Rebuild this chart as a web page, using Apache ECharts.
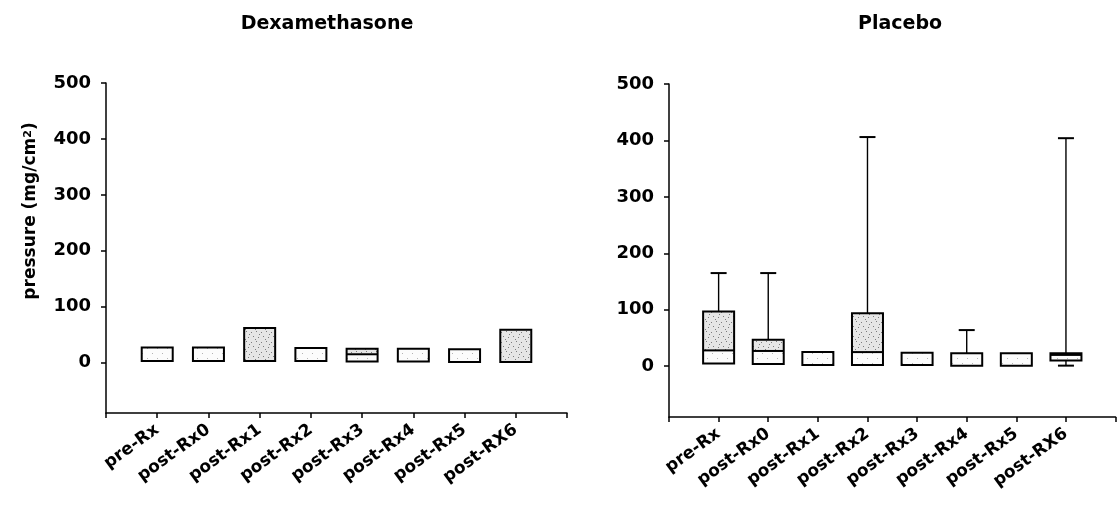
<!DOCTYPE html>
<html>
<head>
<meta charset="utf-8">
<script src="https://cdn.jsdelivr.net/npm/echarts@6/dist/echarts.min.js"></script>
<style>
  html, body { margin: 0; padding: 0; background: #ffffff; }
  #chart { width: 1118px; height: 531px; }
</style>
</head>
<body>
<div id="chart"></div>
<script>
// Measurement time points
const categories = ['pre-Rx', 'post-Rx0', 'post-Rx1', 'post-Rx2', 'post-Rx3', 'post-Rx4', 'post-Rx5', 'post-RX6'];

// Box statistics per time point: [min, Q1, median, Q3, max]  (mg/cm2)
const dexamethasone = [
  [3, 3, 27, 27, 27],
  [3, 3, 27, 27, 27],
  [3, 3, 3, 62, 62],
  [3, 3, 26, 26, 26],
  [2, 2, 15, 25, 25],
  [2, 2, 25, 25, 25],
  [1, 1, 24, 24, 24],
  [1, 1, 1, 59, 59]
];
const placebo = [
  [5, 5, 28, 97, 165],
  [4, 4, 27, 47, 165],
  [2, 2, 25, 25, 25],
  [2, 2, 25, 94, 406],
  [2, 2, 24, 24, 24],
  [1, 1, 23, 23, 64],
  [1, 1, 23, 23, 23],
  [1, 10, 20, 23, 404]
];

const yTicks = [0, 100, 200, 300, 400, 500];

const FONT = 'DejaVu Sans';
const INK = '#000000';

// Small repeating stipple textures for the box halves
function stipple(bg, dotColor, dots) {
  const c = document.createElement('canvas');
  c.width = 10; c.height = 10;
  const g = c.getContext('2d');
  g.fillStyle = bg; g.fillRect(0, 0, 10, 10);
  g.fillStyle = dotColor;
  dots.forEach(function (d) { g.fillRect(d[0], d[1], 1, 1); });
  return { image: c, repeat: 'repeat' };
}
const upperFill = stipple('#e6e6e6', '#7c7c7c', [[1, 2], [6, 1], [3, 6], [8, 7], [5, 9], [9, 4]]);
const lowerFill = stipple('#fcfcfc', '#b4b4b4', [[2, 3], [7, 8]]);

const BOX_HALF = 15.5;
const CAP_HALF = 8;

function renderBox(params, api) {
  const x = api.value(0);
  const mn = api.value(1), q1 = api.value(2), md = api.value(3), q3 = api.value(4), mx = api.value(5);
  const cx = api.coord([x, 0])[0];
  const yMin = api.coord([x, mn])[1];
  const yQ1 = api.coord([x, q1])[1];
  const yMd = api.coord([x, md])[1];
  const yQ3 = api.coord([x, q3])[1];
  const yMax = api.coord([x, mx])[1];
  const children = [];
  if (yQ1 - yMd > 0) {
    children.push({ type: 'rect', shape: { x: cx - BOX_HALF, y: yMd, width: BOX_HALF * 2, height: yQ1 - yMd }, style: { fill: lowerFill } });
  }
  if (yMd - yQ3 > 0) {
    children.push({ type: 'rect', shape: { x: cx - BOX_HALF, y: yQ3, width: BOX_HALF * 2, height: yMd - yQ3 }, style: { fill: upperFill } });
  }
  if (mx > q3) {
    children.push({ type: 'line', shape: { x1: cx, y1: yQ3, x2: cx, y2: yMax }, style: { stroke: INK, lineWidth: 1.4 } });
    children.push({ type: 'line', shape: { x1: cx - CAP_HALF, y1: yMax, x2: cx + CAP_HALF, y2: yMax }, style: { stroke: INK, lineWidth: 2 } });
  }
  if (mn < q1) {
    children.push({ type: 'line', shape: { x1: cx, y1: yQ1, x2: cx, y2: yMin }, style: { stroke: INK, lineWidth: 1.4 } });
    children.push({ type: 'line', shape: { x1: cx - CAP_HALF, y1: yMin, x2: cx + CAP_HALF, y2: yMin }, style: { stroke: INK, lineWidth: 2 } });
  }
  if (md > q1 && md < q3) {
    children.push({ type: 'line', shape: { x1: cx - BOX_HALF, y1: yMd, x2: cx + BOX_HALF, y2: yMd }, style: { stroke: INK, lineWidth: 2 } });
  }
  children.push({ type: 'rect', shape: { x: cx - BOX_HALF, y: yQ3, width: BOX_HALF * 2, height: yQ1 - yQ3 }, style: { fill: 'none', stroke: INK, lineWidth: 2 } });
  return { type: 'group', children: children };
}

// Empty slots at both ends give the axis one spare step on each side
const axisCats = [''].concat(categories, ['']);

function makeXAxis(gridIndex) {
  return {
    type: 'category',
    gridIndex: gridIndex,
    data: axisCats,
    boundaryGap: false,
    axisLine: { onZero: false, lineStyle: { color: INK, width: 1.5 } },
    axisTick: { show: true, interval: 0, length: 5, lineStyle: { color: INK, width: 1.5 } },
    axisLabel: {
      interval: 0, rotate: 36, margin: 15,
      color: INK, fontFamily: FONT, fontWeight: 'bold', fontSize: 17
    },
    splitLine: { show: false }
  };
}

function makeYAxis(gridIndex) {
  return {
    type: 'value',
    gridIndex: gridIndex,
    min: -90,
    max: 500,
    axisLine: { show: true, lineStyle: { color: INK, width: 1.5 } },
    axisTick: { show: true, length: 5, customValues: yTicks, lineStyle: { color: INK, width: 1.5 } },
    axisLabel: {
      customValues: yTicks, margin: 15,
      color: INK, fontFamily: FONT, fontWeight: 'bold', fontSize: 18
    },
    splitLine: { show: false }
  };
}

function toSeriesData(stats) {
  return stats.map(function (s, i) { return [i + 1].concat(s); });
}

const chart = echarts.init(document.getElementById('chart'), null, { renderer: 'canvas' });

chart.setOption({
  backgroundColor: '#ffffff',
  animation: false,
  title: [
    { text: 'Dexamethasone', left: 322, top: 10, textAlign: 'center',
      textStyle: { fontFamily: FONT, fontWeight: 'bold', fontSize: 19, color: INK } },
    { text: 'Placebo', left: 895, top: 10, textAlign: 'center',
      textStyle: { fontFamily: FONT, fontWeight: 'bold', fontSize: 19, color: INK } }
  ],
  grid: [
    { left: 106, top: 83, width: 461, height: 330 },
    { left: 669, top: 84, width: 456, height: 333 }
  ],
  xAxis: [makeXAxis(0), makeXAxis(1)],
  yAxis: [makeYAxis(0), makeYAxis(1)],
  graphic: [{
    type: 'text',
    x: 31, y: 211,
    rotation: Math.PI / 2,
    style: {
      text: 'pressure (mg/cm{sup|2})',
      font: 'bold 17px "DejaVu Sans"',
      fill: INK,
      align: 'center',
      verticalAlign: 'middle',
      rich: { sup: { font: 'bold 11px "DejaVu Sans"', fill: INK, verticalAlign: 'top' } }
    }
  }],
  series: [
    { type: 'custom', name: 'Dexamethasone', xAxisIndex: 0, yAxisIndex: 0,
      renderItem: renderBox, encode: { x: 0, y: [1, 2, 3, 4, 5] }, clip: false,
      data: toSeriesData(dexamethasone) },
    { type: 'custom', name: 'Placebo', xAxisIndex: 1, yAxisIndex: 1,
      renderItem: renderBox, encode: { x: 0, y: [1, 2, 3, 4, 5] }, clip: false,
      data: toSeriesData(placebo) }
  ]
});
</script>
</body>
</html>
